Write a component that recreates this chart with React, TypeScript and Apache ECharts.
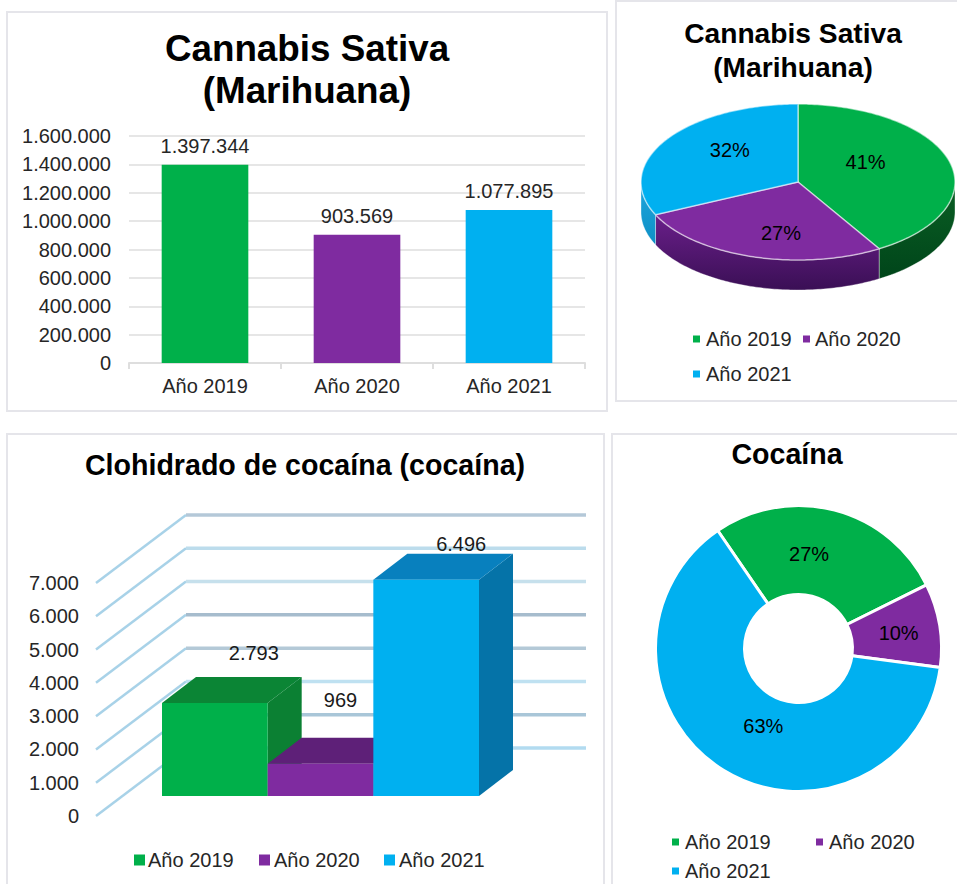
import React, { useEffect, useRef } from "react";
import * as echarts from "echarts";

const FONT = '"Liberation Sans", Arial, sans-serif';

const categories = ["Año 2019", "Año 2020", "Año 2021"];
const colors = ["#00B04A", "#7F2BA0", "#00B0F0"];
const cannabisValues = [1397344, 903569, 1077895];
const cannabisPercentLabels = ["41%", "27%", "32%"];
const cocaineValues = [2793, 969, 6496];
const cocainePercentLabels = ["27%", "10%", "63%"];
const cocaineTicks = [0, 1000, 2000, 3000, 4000, 5000, 6000, 7000];

const topShades3d = ["#0B8535", "#5E2078", "#0880BE"];
const sideShades3d = ["#0B8033", "#5E2078", "#0573A8"];
const wallShades = ["#b2dbf0", "#a9c6d8", "#bfe1f1", "#b4c9d7", "#a6bccd", "#c6e0ec", "#bcdcec", "#b4c8d8"];
const pieSideShades: [string, string][] = [["#0a5f24", "#00451a"], ["#6a1f8a", "#3a0f55"], ["#1fa5dc", "#0e90c6"]];
const cannabisLabelOffsets = [[-8, -10], [6, 14], [-2, -11]];
const cocaineLabelOffsets = [[-15, 4], [0, 1], [18, -9]];
const barLabelOffsets = [[39, -50], [20, -64], [35, -36]];

const fmt = (v: number) => String(v).replace(/\B(?=(\d{3})+(?!\d))/g, ".");
const sum = (a: number[]) => a.reduce((s, v) => s + v, 0);

function panel(x: number, y: number, width: number, height: number) {
  return { type: "rect", shape: { x, y, width, height }, style: { fill: "#fff", stroke: "#e5e5ea", lineWidth: 2 }, silent: true, z: -5 };
}

function legendItem(i: number, x: number, y: number, textX: number, size: number) {
  return [
    { type: "rect", shape: { x, y: y - size / 2, width: size, height: size }, style: { fill: colors[i] }, silent: true },
    { type: "text", x: textX, y, style: { text: categories[i], fill: "#262626", fontSize: 20, fontFamily: FONT, verticalAlign: "middle", align: "left" }, silent: true },
  ];
}

// 3D pie geometry
const P = { cx: 798, cy: 182, rx: 157, ry: 78, depth: 30 };
const ellipsePt = (deg: number, dy = 0) => {
  const a = (deg * Math.PI) / 180;
  return [P.cx + P.rx * Math.sin(a), P.cy - P.ry * Math.cos(a) + dy];
};
const arcPts = (a0: number, a1: number, dy = 0) => {
  const pts: number[][] = [];
  const n = Math.max(2, Math.ceil(Math.abs(a1 - a0)));
  for (let i = 0; i <= n; i++) pts.push(ellipsePt(a0 + ((a1 - a0) * i) / n, dy));
  return pts;
};

function renderPie3d(params: any, api: any) {
  const i = params.dataIndex;
  const total = sum(cannabisValues);
  const before = sum(cannabisValues.slice(0, i));
  const a0 = (before / total) * 360;
  const a1 = ((before + api.value(0)) / total) * 360;
  const children: any[] = [];
  const s0 = Math.max(a0, 90);
  const s1 = Math.min(a1, 270);
  if (s1 > s0) {
    children.push({
      type: "polygon",
      shape: { points: [...arcPts(s0, s1), ...arcPts(s1, s0, P.depth)] },
      style: {
        fill: new echarts.graphic.LinearGradient(0, 0, 0, 1, [
          { offset: 0, color: pieSideShades[i][0] },
          { offset: 1, color: pieSideShades[i][1] },
        ]),
        stroke: "rgba(255,255,255,0.35)",
        lineWidth: 1,
      },
    });
  }
  children.push({
    type: "polygon",
    shape: { points: [[P.cx, P.cy], ...arcPts(a0, a1)] },
    style: { fill: colors[i], stroke: "rgba(255,255,255,0.55)", lineWidth: 1.5 },
  });
  const mid = ellipsePt((a0 + a1) / 2);
  children.push({
    type: "text",
    style: {
      text: cannabisPercentLabels[i],
      x: P.cx + (mid[0] - P.cx) * 0.5 + cannabisLabelOffsets[i][0],
      y: P.cy + (mid[1] - P.cy) * 0.5 + cannabisLabelOffsets[i][1],
      fill: "#000",
      fontSize: 20,
      fontFamily: FONT,
      align: "center",
      verticalAlign: "middle",
    },
  });
  return { type: "group", children };
}

// 3D column geometry
const B3 = { barDx: 27, barDy: -20, depthDx: 34, depthDy: -26, wallDx: 90, wallDy: -68, wallLeft: 96, wallRight: 586 };

function renderWall(params: any, api: any) {
  const y = api.coord([0, api.value(1)])[1];
  const shade = wallShades[params.dataIndex];
  const backX = B3.wallLeft + B3.wallDx;
  const backY = y + B3.wallDy;
  return {
    type: "group",
    children: [
      { type: "line", shape: { x1: B3.wallLeft, y1: y, x2: backX, y2: backY }, style: { stroke: "#a8d2e8", lineWidth: 2.5 } },
      { type: "line", shape: { x1: backX, y1: backY, x2: B3.wallRight, y2: backY }, style: { stroke: shade, lineWidth: 3.5 } },
    ],
  };
}

function renderBar3d(params: any, api: any) {
  const i = params.dataIndex;
  const val = api.value(1);
  const [cx, top0] = api.coord([i, val]);
  const base0 = api.coord([i, 0])[1];
  const w = api.size([1, 0])[0];
  const x0 = cx - w / 2 + B3.barDx;
  const x1 = x0 + w;
  const top = top0 + B3.barDy;
  const base = base0 + B3.barDy;
  const dx = B3.depthDx;
  const dy = B3.depthDy;
  return {
    type: "group",
    children: [
      { type: "polygon", shape: { points: [[x1, top], [x1 + dx, top + dy], [x1 + dx, base + dy], [x1, base]] }, style: { fill: sideShades3d[i] } },
      { type: "polygon", shape: { points: [[x0, top], [x0 + dx, top + dy], [x1 + dx, top + dy], [x1, top]] }, style: { fill: topShades3d[i] } },
      { type: "rect", shape: { x: x0, y: top, width: w, height: base - top }, style: { fill: colors[i] } },
      {
        type: "text",
        style: {
          text: fmt(val),
          x: cx + B3.barDx + barLabelOffsets[i][0],
          y: top + barLabelOffsets[i][1],
          fill: "#1a1a1a",
          fontSize: 20,
          fontFamily: FONT,
          align: "center",
          verticalAlign: "middle",
        },
      },
    ],
  };
}

function buildOption(): any {
  const titleBase = { textAlign: "center", padding: 0 };
  const ts = (fontSize: number, lineHeight: number) => ({ fontFamily: FONT, fontWeight: "bold", color: "#000", fontSize, lineHeight });
  return {
    animation: false,
    backgroundColor: "#fff",
    textStyle: { fontFamily: FONT },
    title: [
      { ...titleBase, text: "Cannabis Sativa\n(Marihuana)", left: 307, top: 27, textStyle: ts(36.8, 42) },
      { ...titleBase, text: "Cannabis Sativa\n(Marihuana)", left: 793, top: 16, textStyle: ts(28.2, 34) },
      { ...titleBase, text: "Clohidrado de cocaína (cocaína)", left: 305, top: 449, textStyle: ts(28.6, 32) },
      { ...titleBase, text: "Cocaína", left: 787, top: 438, textStyle: ts(28.6, 32) },
    ],
    grid: [
      { left: 129, top: 136, width: 456, height: 227 },
      { left: 135, top: 583, width: 317, height: 233 },
    ],
    xAxis: [
      {
        gridIndex: 0,
        type: "category",
        data: categories,
        axisLine: { lineStyle: { color: "#dedede", width: 2 } },
        axisTick: { show: true, length: 6, lineStyle: { color: "#dedede", width: 2 } },
        axisLabel: { color: "#262626", fontSize: 20, fontFamily: FONT, margin: 13 },
      },
      { gridIndex: 1, type: "category", data: categories, show: false },
    ],
    yAxis: [
      {
        gridIndex: 0,
        type: "value",
        min: 0,
        max: 1600000,
        interval: 200000,
        axisLine: { show: false },
        axisTick: { show: false },
        splitLine: { lineStyle: { color: "#e6e6e6", width: 2 } },
        axisLabel: { color: "#262626", fontSize: 20, fontFamily: FONT, margin: 18, formatter: (v: number) => fmt(v) },
      },
      {
        gridIndex: 1,
        type: "value",
        min: 0,
        max: 7000,
        interval: 1000,
        axisLine: { show: false },
        axisTick: { show: false },
        splitLine: { show: false },
        axisLabel: { color: "#262626", fontSize: 20, fontFamily: FONT, margin: 56, formatter: (v: number) => fmt(v) },
      },
    ],
    series: [
      {
        type: "bar",
        xAxisIndex: 0,
        yAxisIndex: 0,
        barWidth: "57%",
        data: cannabisValues.map((value, i) => ({ value, itemStyle: { color: colors[i] } })),
        label: { show: true, position: "top", distance: 9, color: "#262626", fontSize: 20, fontFamily: FONT, formatter: (p: any) => fmt(p.value) },
      },
      { type: "custom", coordinateSystem: "none", data: cannabisValues, renderItem: renderPie3d, z: 3 },
      {
        type: "custom",
        xAxisIndex: 1,
        yAxisIndex: 1,
        data: cocaineTicks.map((t) => [0, t]),
        encode: { x: 0, y: 1 },
        renderItem: renderWall,
        z: 1,
      },
      {
        type: "custom",
        xAxisIndex: 1,
        yAxisIndex: 1,
        data: cocaineValues.map((v, i) => [i, v]),
        encode: { x: 0, y: 1 },
        renderItem: renderBar3d,
        z: 3,
      },
      {
        type: "pie",
        center: [798.5, 648.5],
        radius: [54, 143],
        startAngle: 124.4,
        clockwise: true,
        data: cocaineValues.map((value, i) => ({ value, name: categories[i], itemStyle: { color: colors[i] } })),
        itemStyle: { borderColor: "#fff", borderWidth: 3 },
        labelLine: { show: false },
        label: {
          show: true,
          position: "inside",
          color: "#000",
          fontSize: 20,
          fontFamily: FONT,
          formatter: (p: any) => cocainePercentLabels[p.dataIndex],
        },
        labelLayout: (p: any) => ({ dx: cocaineLabelOffsets[p.dataIndex][0], dy: cocaineLabelOffsets[p.dataIndex][1] }),
      },
    ],
    graphic: {
      elements: [
        panel(7, 12, 600, 399),
        panel(616, 1, 345, 400),
        panel(7, 434, 597, 455),
        panel(612, 434, 350, 455),
        ...legendItem(0, 693, 339, 706, 7),
        ...legendItem(1, 803, 339, 815, 7),
        ...legendItem(2, 693, 374, 706, 7),
        ...legendItem(0, 134, 860, 148, 11),
        ...legendItem(1, 259, 860, 274, 11),
        ...legendItem(2, 384, 860, 399, 11),
        ...legendItem(0, 672, 842, 685, 7),
        ...legendItem(1, 816, 842, 829, 7),
        ...legendItem(2, 672, 871, 685, 7),
      ],
    },
  };
}

export default function App() {
  const ref = useRef<HTMLDivElement>(null);
  useEffect(() => {
    document.body.style.margin = "0";
    document.body.style.overflow = "hidden";
    const chart = echarts.init(ref.current!, undefined, { renderer: "svg" });
    chart.setOption(buildOption());
    return () => chart.dispose();
  }, []);
  return <div ref={ref} style={{ width: 957, height: 884 }} />;
}
